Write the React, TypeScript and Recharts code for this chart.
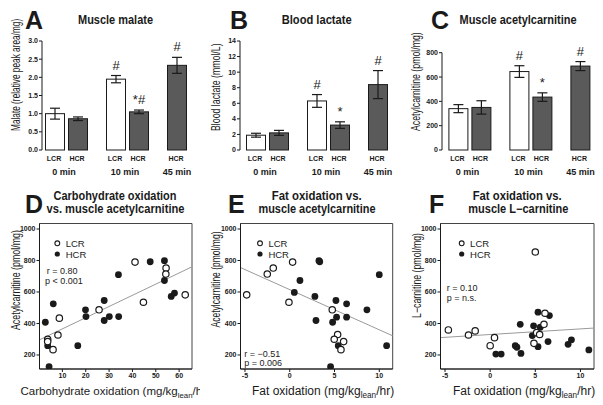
import {
  BarChart,
  Bar,
  ErrorBar,
  XAxis,
  YAxis,
  ScatterChart,
  Scatter,
  ReferenceLine,
  ReferenceArea,
} from "recharts"

const FONT = '"Liberation Sans", Arial, Helvetica, sans-serif'
const INK = "#1a1a1a"
const HCR_FILL = "#5a5a5a"
const W = 640
const H = 405

// bar panels share the time groups
const groups = ["0 min", "10 min", "45 min"]

// A – muscle malate
const malateLcr = [1.0, 1.95, null]
const malateHcr = [0.86, 1.05, 2.33]
const malateLcrSem = [0.15, 0.1, null]
const malateHcrSem = [0.05, 0.05, 0.22]
const malateLcrMark = ["", "#", ""]
const malateHcrMark = ["", "*#", "#"]
const malateTicks = [0, 0.5, 1, 1.5, 2, 2.5, 3]

// B – blood lactate
const lactateLcr = [1.9, 6.3, null]
const lactateHcr = [2.2, 3.2, 8.4]
const lactateLcrSem = [0.25, 0.82, null]
const lactateHcrSem = [0.32, 0.42, 1.8]
const lactateLcrMark = ["", "#", ""]
const lactateHcrMark = ["", "*", "#"]
const lactateTicks = [0, 2, 4, 6, 8, 10, 12, 14]

// C – muscle acetylcarnitine
const acetylLcr = [340, 645, null]
const acetylHcr = [350, 435, 690]
const acetylLcrSem = [33, 48, null]
const acetylHcrSem = [55, 35, 37]
const acetylLcrMark = ["", "#", ""]
const acetylHcrMark = ["", "*", "#"]
const acetylTicks = [0, 200, 400, 600, 800]

// D – carbohydrate oxidation vs acetylcarnitine
const dLcrX = [41.1, 44.7, 54.4, 54.3, 62.6, 25.7, 8.7, 8.1, 3.7, 3.7, 6.0]
const dLcrY = [790, 535, 752, 714, 582, 487, 434, 327, 300, 285, 234]
const dHcrX = [47.6, 53.7, 53.7, 34.0, 58.0, 56.6, 6.1, 19.9, 27.9, 20.1, 30.1, 34.1, 27.9, 2.7, 3.7, 16.6, 4.3]
const dHcrY = [792, 799, 673, 710, 593, 572, 525, 487, 546, 444, 444, 444, 419, 408, 259, 259, 126]
const dFit = [295, 7.1]
const dTicksX = [10, 20, 30, 40, 50, 60]

// E – fat oxidation vs acetylcarnitine
const eLcrX = [0.32, -1.84, -2.51, -4.81, -0.09, 4.75, 5.35, 4.97, 6.02, 5.72]
const eLcrY = [790, 752, 714, 582, 535, 487, 330, 300, 285, 234]
const eHcrX = [3.26, 3.35, 10.0, 1.14, 0.51, 2.81, 5.16, 6.35, 8.62, 2.93, 5.23, 6.35, 4.79, 5.42, 10.82, 4.56]
const eHcrY = [799, 792, 710, 673, 597, 572, 546, 525, 487, 419, 440, 440, 408, 259, 259, 126]
const eFit = [615, -25.5]

// F – fat oxidation vs L-carnitine
const fLcrX = [5.0, -4.63, -1.66, -2.4, 0.48, 0.0, 5.96, 5.15, 5.48, 6.07, 4.85]
const fLcrY = [854, 359, 353, 327, 310, 259, 395, 342, 330, 465, 274]
const fHcrX = [5.3, 6.56, 3.33, 4.81, 5.55, 4.67, 0.63, 1.22, 3.41, 2.78, 2.96, 5.3, 6.41, 8.63, 9.0, 10.93]
const fHcrY = [472, 450, 395, 385, 376, 323, 206, 206, 210, 259, 249, 253, 285, 268, 296, 232]
const fFit = [330, 3.57]

const fatTicksX = [-5, 0, 5, 10]
const scatterTicksY = [200, 400, 600, 800, 1000]
const scatterDomainY = [111, 1035]

const tickStyle = { fontSize: 7, fontWeight: 700, fill: INK, fontFamily: FONT }

type Slot = { strain: string; value: number; sem: number; mark: string }

function buildRows(lcr, hcr, lcrSem, hcrSem, lcrMark, hcrMark) {
  return groups.map((g, i) => {
    const slots: Slot[] = []
    if (lcr[i] != null) slots.push({ strain: "LCR", value: lcr[i], sem: lcrSem[i], mark: lcrMark[i] })
    if (hcr[i] != null) slots.push({ strain: "HCR", value: hcr[i], sem: hcrSem[i], mark: hcrMark[i] })
    return {
      group: g,
      slots,
      first: slots[0] ? slots[0].value : null,
      firstErr: slots[0] ? slots[0].sem : null,
      second: slots[1] ? slots[1].value : null,
      secondErr: slots[1] ? slots[1].sem : null,
    }
  })
}

function barShape(idx: number) {
  return (p: any) => {
    const slot = p.payload && p.payload.slots[idx]
    if (!slot || !p.height) return <g />
    const perUnit = p.height / slot.value
    const errTop = p.y - slot.sem * perUnit
    return (
      <g>
        <rect
          x={p.x}
          y={p.y}
          width={p.width}
          height={p.height}
          fill={slot.strain === "HCR" ? HCR_FILL : "#fff"}
          stroke={INK}
          strokeWidth={1}
        />
        {slot.mark ? (
          <text x={p.x + p.width / 2} y={errTop - 6} textAnchor="middle" fontSize={13} fill={INK} fontFamily={FONT}>
            {slot.mark}
          </text>
        ) : null}
      </g>
    )
  }
}

function GroupTick({ x, y, index, rows }: any) {
  const row = rows[index]
  if (!row) return null
  const pair = row.slots.length === 2
  const labelX = pair ? x - 2 : x - 11
  return (
    <g fontFamily={FONT} fill={INK} fontWeight={700}>
      {row.slots.map((s: Slot, i: number) => (
        <text key={i} x={i === 0 ? x - 12 : x + 11} y={y + 11} fontSize={7} textAnchor="middle">
          {s.strain}
        </text>
      ))}
      <text x={labelX} y={y + 24.5} fontSize={9} textAnchor="middle">
        {row.group}
      </text>
    </g>
  )
}

function BarPanel({ rows, ticks, fmt, left, top, pad }: any) {
  const yw = 30
  const xh = 20
  const bottom = 150
  const right = left + pad + 183
  return (
    <div style={{ position: "absolute", left: 0, top: 0 }}>
      <BarChart
        width={W}
        height={H}
        data={rows}
        barSize={19}
        barGap={4}
        margin={{ top, left: left - yw, right: W - right, bottom: H - bottom - xh }}
      >
        <XAxis
          dataKey="group"
          interval={0}
          axisLine={false}
          tickLine={false}
          tickSize={0}
          tickMargin={0}
          height={xh}
          padding={{ left: pad, right: 0 }}
          tick={(p: any) => <GroupTick {...p} rows={rows} />}
        />
        <YAxis
          domain={[ticks[0], ticks[ticks.length - 1]]}
          ticks={ticks}
          interval={0}
          width={yw}
          tickSize={3}
          tickMargin={1}
          stroke={INK}
          tick={tickStyle}
          tickFormatter={fmt}
        />
        <Bar dataKey="first" shape={barShape(0)} isAnimationActive={false}>
          <ErrorBar dataKey="firstErr" width={5} stroke={INK} strokeWidth={1.2} direction="y" />
        </Bar>
        <Bar dataKey="second" shape={barShape(1)} isAnimationActive={false}>
          <ErrorBar dataKey="secondErr" width={5} stroke={INK} strokeWidth={1.2} direction="y" />
        </Bar>
      </BarChart>
    </div>
  )
}

function toPoints(xs: number[], ys: number[]) {
  return xs.map((x, i) => ({ x, y: ys[i] }))
}

function ScatterPanel({ lcr, hcr, xDomain, xTicks, fit, left, right }: any) {
  const yw = 30
  const xh = 20
  const top = 223.5
  const bottom = 369
  const x0 = xDomain[0]
  const x1 = xDomain[1]
  return (
    <div style={{ position: "absolute", left: 0, top: 0 }}>
      <ScatterChart
        width={W}
        height={H}
        margin={{ top, left: left - yw, right: W - right, bottom: H - bottom - xh }}
      >
        <XAxis
          type="number"
          dataKey="x"
          domain={xDomain}
          ticks={xTicks}
          interval={0}
          allowDataOverflow
          height={xh}
          tickSize={3}
          tickMargin={1.5}
          stroke={INK}
          tick={tickStyle}
        />
        <YAxis
          type="number"
          dataKey="y"
          domain={scatterDomainY}
          ticks={scatterTicksY}
          interval={0}
          allowDataOverflow
          width={yw}
          tickSize={3}
          tickMargin={1}
          stroke={INK}
          tick={tickStyle}
        />
        <ReferenceArea
          x1={x0}
          x2={x1}
          y1={scatterDomainY[0]}
          y2={scatterDomainY[1]}
          fill="none"
          fillOpacity={0}
          stroke="#444"
          strokeWidth={1}
          ifOverflow="visible"
        />
        <ReferenceLine
          segment={[
            { x: x0, y: fit[0] + fit[1] * x0 },
            { x: x1, y: fit[0] + fit[1] * x1 },
          ]}
          stroke="#9a9a9a"
          strokeWidth={1}
          ifOverflow="visible"
        />
        <Scatter
          data={hcr}
          isAnimationActive={false}
          shape={(p: any) => <circle cx={p.cx} cy={p.cy} r={3.4} fill={INK} />}
        />
        <Scatter
          data={lcr}
          isAnimationActive={false}
          shape={(p: any) => <circle cx={p.cx} cy={p.cy} r={3.2} fill="#fff" stroke={INK} strokeWidth={1.2} />}
        />
      </ScatterChart>
    </div>
  )
}

function Legend({ x }: { x: number }) {
  return (
    <g fontFamily={FONT} fontSize={9.5} fill={INK}>
      <circle cx={x} cy={243.3} r={2.4} fill="#fff" stroke={INK} strokeWidth={1.1} />
      <circle cx={x} cy={254} r={2.6} fill={INK} />
      <text x={x + 8.4} y={246.9}>LCR</text>
      <text x={x + 8.4} y={257.5}>HCR</text>
    </g>
  )
}

function XLabel({ x, size, main }: { x: number; size: number; main: string }) {
  return (
    <text x={x} y={395} fontSize={size}>
      {main} (mg/kg
      <tspan fontSize={size * 0.68} dy={3}>lean</tspan>
      <tspan dy={-3}>/hr)</tspan>
    </text>
  )
}

// rotated, horizontally condensed axis title
function YLabel({ x, y, sx, anchor, text }: { x: number; y: number; sx: number; anchor: "start" | "end"; text: string }) {
  return (
    <text
      x={0}
      y={0}
      fontSize={12}
      textAnchor={anchor}
      transform={`translate(${x} ${y}) rotate(-90) scale(${sx} 1)`}
    >
      {text}
    </text>
  )
}

function Overlay() {
  const title = { fontSize: 12, fontWeight: 700, textAnchor: "middle" as const, lengthAdjust: "spacingAndGlyphs" }
  const letter = { fontSize: 25, fontWeight: 700 }
  return (
    <svg
      width={603}
      height={405}
      style={{ position: "absolute", left: 0, top: 0, pointerEvents: "none" }}
      fontFamily={FONT}
      fill={INK}
    >
      <defs>
        <clipPath id="clipD">
          <rect x={0} y={380} width={200} height={25} />
        </clipPath>
      </defs>

      <text x={25} y={29} {...letter}>A</text>
      <text x={230} y={29} {...letter}>B</text>
      <text x={431} y={29} {...letter}>C</text>
      <text x={25} y={213} {...letter}>D</text>
      <text x={228} y={213} {...letter}>E</text>
      <text x={429} y={213} {...letter}>F</text>

      <text x={115.5} y={24} textLength={75} {...title}>Muscle malate</text>
      <text x={316.7} y={24} textLength={70} {...title}>Blood lactate</text>
      <text x={518} y={24} textLength={117} {...title}>Muscle acetylcarnitine</text>
      <text x={115} y={200} textLength={123} {...title}>Carbohydrate oxidation</text>
      <text x={115.5} y={212.5} textLength={138} {...title}>vs. muscle acetylcarnitine</text>
      <text x={316.7} y={200} textLength={90} {...title}>Fat oxidation vs.</text>
      <text x={317} y={212.5} textLength={117} {...title}>muscle acetylcarnitine</text>
      <text x={517.2} y={200} textLength={89} {...title}>Fat oxidation vs.</text>
      <text x={518.3} y={212.5} textLength={100} {...title}>muscle L−carnitine</text>

      <YLabel x={20} y={131} sx={0.69} anchor="start" text="Malate (relative peak area/mg)" />
      <YLabel x={220} y={131} sx={0.73} anchor="start" text="Blood lactate (mmol/L)" />
      <YLabel x={420} y={131} sx={0.73} anchor="start" text="Acetylcarnitine (pmol/mg)" />
      <YLabel x={20} y={230} sx={0.74} anchor="end" text="Acetylcarnitine (pmol/mg)" />
      <YLabel x={220} y={231.5} sx={0.71} anchor="end" text="Acetylcarnitine (pmol/mg)" />
      <YLabel x={421} y={233} sx={0.73} anchor="end" text="L−carnitine (pmol/mg)" />

      <g clipPath="url(#clipD)">
        <XLabel x={20.5} size={11.5} main="Carbohydrate oxidation" />
      </g>
      <XLabel x={252} size={12} main="Fat oxidation" />
      <XLabel x={453} size={12} main="Fat oxidation" />

      <Legend x={57.3} />
      <Legend x={260} />
      <Legend x={461.7} />

      <g fontSize={9}>
        <text x={46.7} y={274}>r = 0.80</text>
        <text x={45} y={284}>p &lt; 0.001</text>
        <text x={244.3} y={356.5}>r = −0.51</text>
        <text x={244.3} y={365.5}>p = 0.006</text>
        <text x={446.7} y={290.7}>r = 0.10</text>
        <text x={446.7} y={300.7}>p = n.s.</text>
      </g>
    </svg>
  )
}

const malateRows = buildRows(malateLcr, malateHcr, malateLcrSem, malateHcrSem, malateLcrMark, malateHcrMark)
const lactateRows = buildRows(lactateLcr, lactateHcr, lactateLcrSem, lactateHcrSem, lactateLcrMark, lactateHcrMark)
const acetylRows = buildRows(acetylLcr, acetylHcr, acetylLcrSem, acetylHcrSem, acetylLcrMark, acetylHcrMark)

export default function App() {
  return (
    <div
      style={{
        position: "absolute",
        left: 0,
        top: 0,
        width: 603,
        height: 405,
        overflow: "hidden",
        background: "#fff",
        fontFamily: FONT,
      }}
    >
      <BarPanel rows={malateRows} ticks={malateTicks} fmt={(v: number) => v.toFixed(1)} left={42} top={41} pad={-6.5} />
      <BarPanel rows={lactateRows} ticks={lactateTicks} left={240} top={41} pad={-3.5} />
      <BarPanel rows={acetylRows} ticks={acetylTicks} left={442} top={52.7} pad={-3.1} />

      <ScatterPanel
        lcr={toPoints(dLcrX, dLcrY)}
        hcr={toPoints(dHcrX, dHcrY)}
        xDomain={[0.2, 65.5]}
        xTicks={dTicksX}
        fit={dFit}
        left={39.5}
        right={192}
      />
      <ScatterPanel
        lcr={toPoints(eLcrX, eLcrY)}
        hcr={toPoints(eHcrX, eHcrY)}
        xDomain={[-5.5, 11.5]}
        xTicks={fatTicksX}
        fit={eFit}
        left={240.5}
        right={392.7}
      />
      <ScatterPanel
        lcr={toPoints(fLcrX, fLcrY)}
        hcr={toPoints(fHcrX, fHcrY)}
        xDomain={[-5.5, 11.5]}
        xTicks={fatTicksX}
        fit={fFit}
        left={440.5}
        right={594}
      />

      <Overlay />
    </div>
  )
}
